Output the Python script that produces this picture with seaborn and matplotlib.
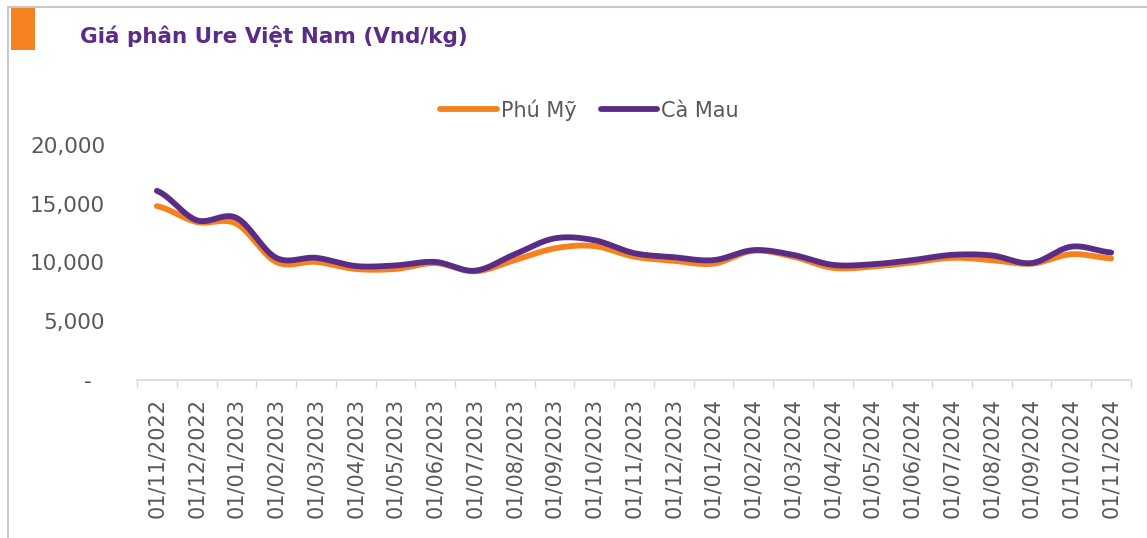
import numpy as np
import pandas as pd
import matplotlib
matplotlib.use("Agg")
import matplotlib.pyplot as plt
from matplotlib.patches import Rectangle
from matplotlib.lines import Line2D
import seaborn as sns

# Monthly urea prices (Vnd/kg).
dates = [
    "01/11/2022", "01/12/2022", "01/01/2023", "01/02/2023", "01/03/2023",
    "01/04/2023", "01/05/2023", "01/06/2023", "01/07/2023", "01/08/2023",
    "01/09/2023", "01/10/2023", "01/11/2023", "01/12/2023", "01/01/2024",
    "01/02/2024", "01/03/2024", "01/04/2024", "01/05/2024", "01/06/2024",
    "01/07/2024", "01/08/2024", "01/09/2024", "01/10/2024", "01/11/2024",
]
phu_my = [14800, 13450, 13300, 10050, 10050, 9450, 9450, 9950, 9250, 10200,
          11200, 11400, 10500, 10150, 9900, 11000, 10500, 9550, 9650, 10000,
          10400, 10200, 9900, 10700, 10350]
ca_mau = [16100, 13600, 13800, 10400, 10400, 9700, 9750, 10050, 9300, 10700,
          12050, 11900, 10800, 10450, 10200, 11050, 10650, 9800, 9850, 10200,
          10650, 10600, 9950, 11350, 10850]
y_ticks = [0, 5000, 10000, 15000, 20000]
y_tick_labels = ["-  ", "5,000", "10,000", "15,000", "20,000"]

ORANGE = "#F5821F"
PURPLE = "#5B2C86"
TEXT = "#595959"
AXIS = "#D9D9D9"


def smooth_line(values, steps=24):
    """Excel-style smoothed line (Catmull-Rom) through evenly spaced points."""
    y = np.asarray(values, dtype=float)
    pts = np.r_[y[0], y, y[-1]]
    xs, ys = [], []
    t = np.linspace(0, 1, steps, endpoint=False)
    for i in range(len(y) - 1):
        p0, p1, p2, p3 = pts[i:i + 4]
        c1 = p1 + (p2 - p0) / 6
        c2 = p2 - (p3 - p1) / 6
        seg = ((1 - t) ** 3 * p1 + 3 * (1 - t) ** 2 * t * c1
               + 3 * (1 - t) * t ** 2 * c2 + t ** 3 * p2)
        xs.extend(i + t)
        ys.extend(seg)
    xs.append(len(y) - 1)
    ys.append(y[-1])
    return np.array(xs), np.array(ys)


sns.set_style("white")
plt.rcParams["font.family"] = ["DejaVu Sans"]

fig = plt.figure(figsize=(11.47, 5.38), dpi=100)
ax = fig.add_axes([137 / 1147, 158 / 538, 994 / 1147, 235 / 538])

# Draw both series as smoothed lines.
for name, values, color in [("Phú Mỹ", phu_my, ORANGE), ("Cà Mau", ca_mau, PURPLE)]:
    xs, ys = smooth_line(values)
    sns.lineplot(x=xs, y=ys, color=color, linewidth=4.2, label=name,
                 ax=ax, sort=False)
for line in ax.lines:
    line.set_solid_capstyle("round")

# Axes limits, ticks and spines.
ax.set_xlim(-0.5, len(dates) - 0.5)
ax.set_ylim(0, 20000)
ax.set_xticks(range(len(dates)))
ax.set_xticklabels(dates, rotation=90, fontsize=15, color=TEXT)
ax.set_xticks(np.arange(-0.5, len(dates), 1), minor=True)
ax.tick_params(axis="x", which="major", length=0, pad=13)
ax.tick_params(axis="x", which="minor", bottom=True, length=5.5, width=1,
               color=AXIS, direction="out")
ax.set_yticks(y_ticks)
ax.set_yticklabels(y_tick_labels, fontsize=15.5, color=TEXT)
ax.tick_params(axis="y", length=0, pad=23)
for side in ["top", "right", "left"]:
    ax.spines[side].set_visible(False)
ax.spines["bottom"].set_color(AXIS)
ax.spines["bottom"].set_linewidth(1.2)
ax.grid(False)
ax.set_xlabel("")
ax.set_ylabel("")

# Legend above the plot.
handles, labels = ax.get_legend_handles_labels()
ax.get_legend().remove()
leg = fig.legend(handles, labels, loc="center", bbox_to_anchor=(0.514, 0.7955),
                 ncol=2, frameon=False, fontsize=15, handlelength=2.7,
                 handletextpad=0.2, columnspacing=1.15)
for text in leg.get_texts():
    text.set_color(TEXT)
for h in leg.legend_handles:
    h.set_solid_capstyle("round")

# Title block with orange marker and thin frame.
fig.add_artist(Rectangle((11 / 1147, 1 - 50 / 538), 24 / 1147, 43 / 538,
                         transform=fig.transFigure, color=ORANGE, lw=0))
fig.text(80 / 1147, 1 - 36 / 538, "Giá phân Ure Việt Nam (Vnd/kg)",
         fontsize=15.5, fontweight="bold", color=PURPLE, va="center")
fig.add_artist(Line2D([8 / 1147, 8 / 1147], [0, 1 - 7 / 538],
                      transform=fig.transFigure, color="#C8C8C8", lw=1.5))
fig.add_artist(Line2D([8 / 1147, 1], [1 - 7 / 538, 1 - 7 / 538],
                      transform=fig.transFigure, color="#C8C8C8", lw=1.5))

fig.savefig("out.png", dpi=100)
